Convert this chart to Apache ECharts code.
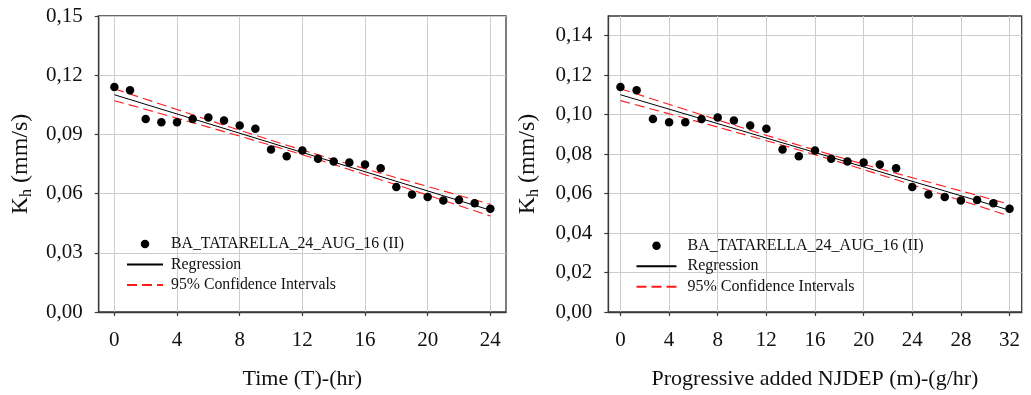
<!DOCTYPE html>
<html>
<head>
<meta charset="utf-8">
<script src="https://cdn.jsdelivr.net/npm/echarts@6/dist/echarts.min.js"></script>
<style>html,body{margin:0;padding:0;background:#fff}#c{width:1031px;height:395px}</style>
</head>
<body>
<div id="c"></div>
<script>
// ---- data ----
var timeHr = [0,1,2,3,4,5,6,7,8,9,10,11,12,13,14,15,16,17,18,19,20,21,22,23,24];
var njdep = [0,1.33,2.67,4,5.33,6.67,8,9.33,10.67,12,13.33,14.67,16,17.33,18.67,20,21.33,22.67,24,25.33,26.67,28,29.33,30.67,32];
var kh = [0.1140,0.1124,0.0978,0.0961,0.0961,0.0978,0.0986,0.0971,0.0945,0.0929,0.0823,0.0789,0.0819,0.0776,0.0763,0.0758,0.0747,0.0728,0.0634,0.0595,0.0583,0.0565,0.0568,0.0551,0.0523];
var regTime = [0,24];
var regNjdep = [0,32];
var regKh = [0.1101,0.0516];
var ciTime = [0,4,8,12,16,20,24];
var ciNjdep = [0,5.33,10.67,16,21.33,26.67,32];
var ciUpper = [0.1131,0.1026,0.0921,0.0821,0.0726,0.0636,0.0546];
var ciLower = [0.1071,0.0982,0.0891,0.0797,0.0696,0.0592,0.0486];
var xTicksTime = [0,4,8,12,16,20,24];
var xTicksNjdep = [0,4,8,12,16,20,24,28,32];
var yTicksLeft = [0,0.03,0.06,0.09,0.12,0.15];
var yTicksRight = [0,0.02,0.04,0.06,0.08,0.10,0.12,0.14];

var seriesName = 'BA_TATARELLA_24_AUG_16 (II)';
var regName = 'Regression';
var ciName = '95% Confidence Intervals';

function zip(xs, ys){ return xs.map(function(x,i){ return [x, ys[i]]; }); }

var FONT = 'Liberation Serif';
var frame = '#3a3a3a';
var gridC = '#cccccc';
var red = '#ff1a1a';

function xAxis(idx, min, max, ticks, name){
  return {
    type:'value', gridIndex: idx, min:min, max:max,
    name:name, nameLocation:'middle', nameGap:56,
    nameTextStyle:{fontFamily:FONT, fontSize:22, color:'#111'},
    axisLine:{show:true, onZero:false, lineStyle:{color:frame, width:1.3}},
    axisTick:{show:true, inside:false, length:4, customValues:ticks, lineStyle:{color:frame, width:1.2}},
    axisLabel:{customValues:ticks, margin:18, fontFamily:FONT, fontSize:21, color:'#111'},
    splitLine:{show:true, lineStyle:{color:gridC, width:1}}
  };
}
function yAxis(idx, ticks, gap){
  return {
    type:'value', gridIndex: idx, min:0, max:0.15,
    name:'{k|K}{h|h}{k| (mm/s)}', nameLocation:'middle', nameGap:gap, nameRotate:90,
    nameTextStyle:{fontFamily:FONT, fontSize:24, color:'#111',
      rich:{k:{fontFamily:FONT, fontSize:24, lineHeight:28, verticalAlign:'middle', color:'#111'},
            h:{fontFamily:FONT, fontSize:16, lineHeight:16, verticalAlign:'bottom', color:'#111'}}},
    axisLine:{show:true, onZero:false, lineStyle:{color:frame, width:1.3}},
    axisTick:{show:true, inside:false, length:4, customValues:ticks, lineStyle:{color:frame, width:1.2}},
    axisLabel:{customValues:ticks, margin:16, fontFamily:FONT, fontSize:21, color:'#111',
      formatter:function(v){ return v.toFixed(2).replace('.',','); }},
    splitLine:{show:true, lineStyle:{color:gridC, width:1}}
  };
}
function seriesFor(idx, xs, regX, ciX){
  return [
    {name:seriesName, type:'scatter', xAxisIndex:idx, yAxisIndex:idx, data:zip(xs, kh),
     symbol:'circle', symbolSize:8.5, itemStyle:{color:'#000', opacity:1}, z:5},
    {name:regName, type:'line', xAxisIndex:idx, yAxisIndex:idx, data:zip(regX, regKh),
     symbol:'none', lineStyle:{color:'#000', width:1}, itemStyle:{color:'#000'}},
    {name:ciName, type:'line', xAxisIndex:idx, yAxisIndex:idx, data:zip(ciX, ciUpper),
     symbol:'none', smooth:true, lineStyle:{color:red, width:1.1, type:[10,5]}, itemStyle:{color:red}},
    {name:ciName, type:'line', xAxisIndex:idx, yAxisIndex:idx, data:zip(ciX, ciLower),
     symbol:'none', smooth:true, lineStyle:{color:red, width:1.1, type:[10,5]}, itemStyle:{color:red}}
  ];
}
function legend(left, top, w, fs, gap){
  return {
    orient:'vertical', left:left, top:top, itemWidth:w, itemHeight:8.5, itemGap:4.5,
    padding:0, textStyle:{fontFamily:FONT, fontSize:fs, color:'#111', padding:[0,0,0,gap]},
    selectedMode:false,
    data:[
      {name:seriesName, icon:'circle', itemStyle:{color:'#000', opacity:1}},
      {name:regName, itemStyle:{opacity:0}},
      {name:ciName, itemStyle:{opacity:0}}
    ]
  };
}

var chart = echarts.init(document.getElementById('c'), null, {renderer:'canvas'});
chart.setOption({
  animation:false,
  backgroundColor:'#fff',
  grid:[
    {left:98.7, right:525, top:16, bottom:82.3, show:true, borderColor:frame, borderWidth:1.3},
    {left:608.3, right:9.3, top:16, bottom:82.3, show:true, borderColor:frame, borderWidth:1.3}
  ],
  legend:[ legend(126, 236, 36, 15.8, 3), legend(635.5, 237.7, 40, 16, 6) ],
  xAxis:[ xAxis(0, -1, 25, xTicksTime, 'Time (T)-(hr)'),
          xAxis(1, -1, 33, xTicksNjdep, 'Progressive added NJDEP (m)-(g/hr)') ],
  yAxis:[ yAxis(0, yTicksLeft, 64), yAxis(1, yTicksRight, 67) ],
  series: seriesFor(0, timeHr, regTime, ciTime).concat(seriesFor(1, njdep, regNjdep, ciNjdep))
});
</script>
</body>
</html>
